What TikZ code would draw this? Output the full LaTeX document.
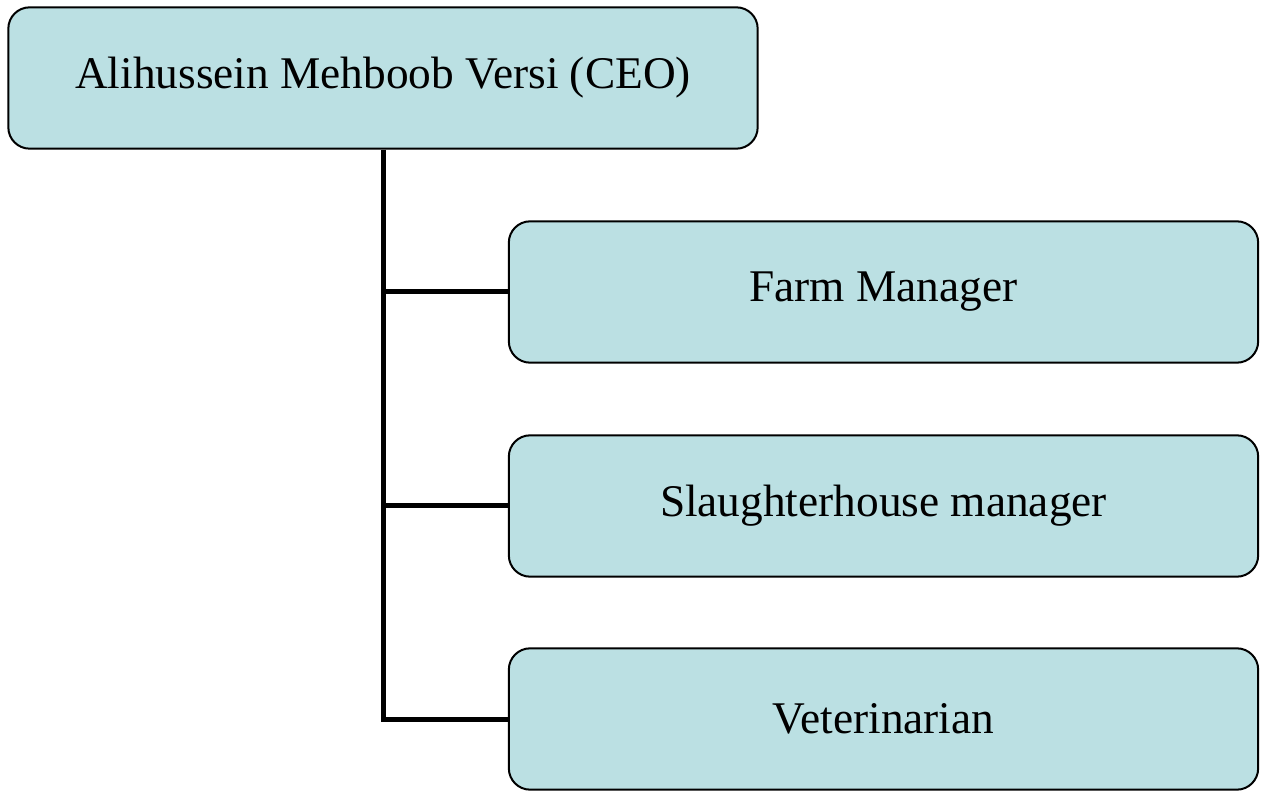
\documentclass[tikz,border=0pt]{standalone}
\usepackage{fontspec}
\setmainfont{Liberation Serif}
\usetikzlibrary{positioning}
\definecolor{OrgBlue}{HTML}{BBE0E3}

\begin{document}
\begin{tikzpicture}[x=0.75pt,y=-0.75pt,every node/.style={font=\fontsize{34}{38}\selectfont,align=center},
    post/.style={draw,line width=1.5pt,rounded corners=16pt,fill=OrgBlue,minimum width=562pt,minimum height=106pt}]
    \useasboundingbox (0,0) rectangle (1261,791);
    \node[post] (ceo) at (383,78) {Alihussein Mehboob Versi (CEO)};
    \node[post] (farm) at (883.5,292) {Farm Manager};
    \node[post] (slaughter) at (883.5,506) {Slaughterhouse manager};
    \node[post] (vet) at (883.5,719) {Veterinarian};
    \draw[line width=3.75pt] (ceo.south) |- (vet.west);
    \foreach \x in {farm,slaughter}{\draw[line width=3.75pt] (ceo.south |- \x.west)--(\x.west);}
\end{tikzpicture}
\end{document}
